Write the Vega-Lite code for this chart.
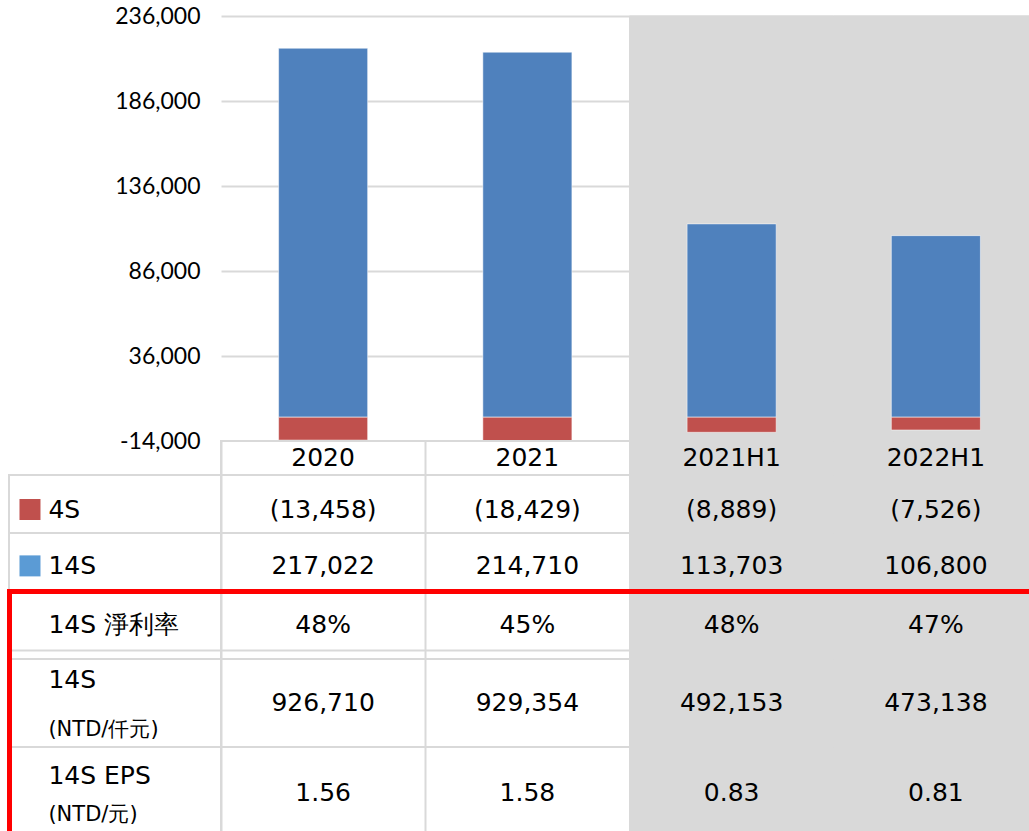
{
  "$schema": "https://vega.github.io/schema/vega-lite/v6.json",
  "padding": {"left": 8, "top": 5, "right": 0, "bottom": 0},
  "background": "white",
  "config": {"view": {"stroke": null}, "font": "DejaVu Sans", "axis": {"labelColor": "#000000"}},
  "datasets": {
    "bars": [
      {"period": "2020", "series": "14S", "value": 217022},
      {"period": "2020", "series": "4S", "value": -13458},
      {"period": "2021", "series": "14S", "value": 214710},
      {"period": "2021", "series": "4S", "value": -18429},
      {"period": "2021H1", "series": "14S", "value": 113703},
      {"period": "2021H1", "series": "4S", "value": -8889},
      {"period": "2022H1", "series": "14S", "value": 106800},
      {"period": "2022H1", "series": "4S", "value": -7526}
    ],
    "metrics": [
      {"metric": "margin", "period": "2020", "value": 0.48},
      {"metric": "margin", "period": "2021", "value": 0.45},
      {"metric": "margin", "period": "2021H1", "value": 0.48},
      {"metric": "margin", "period": "2022H1", "value": 0.47},
      {"metric": "profit", "period": "2020", "value": 926710},
      {"metric": "profit", "period": "2021", "value": 929354},
      {"metric": "profit", "period": "2021H1", "value": 492153},
      {"metric": "profit", "period": "2022H1", "value": 473138},
      {"metric": "eps", "period": "2020", "value": 1.56},
      {"metric": "eps", "period": "2021", "value": 1.58},
      {"metric": "eps", "period": "2021H1", "value": 0.83},
      {"metric": "eps", "period": "2022H1", "value": 0.81}
    ],
    "labels": [
      {"row": "4S", "main": "4S", "sub": ""},
      {"row": "14S", "main": "14S", "sub": ""},
      {"row": "margin", "main": "14S 淨利率", "sub": ""},
      {"row": "profit", "main": "14S", "sub": "(NTD/仟元)"},
      {"row": "eps", "main": "14S EPS", "sub": "(NTD/元)"}
    ],
    "blank": [{"t": ""}]
  },
  "columns": 2,
  "spacing": 0,
  "bounds": "flush",
  "align": "each",
  "concat": [
    {
      "width": 212, "height": 425,
      "data": {"name": "blank"},
      "mark": {"type": "text"},
      "encoding": {"text": {"field": "t"}}
    },
    {
      "width": 817, "height": 425,
      "data": {"name": "bars"},
      "encoding": {
        "x": {"field": "period", "type": "nominal", "sort": null, "scale": {"domain": ["2020", "2021", "2021H1", "2022H1"], "paddingInner": 0, "paddingOuter": 0}, "axis": null}
      },
      "layer": [
        {
          "transform": [{"filter": "datum.series == '14S' && (datum.period == '2021H1' || datum.period == '2022H1')"}],
          "mark": {"type": "rect", "color": "#D9D9D9", "stroke": "#D9D9D9", "strokeWidth": 1},
          "encoding": {
            "y": {"datum": 236000, "type": "quantitative",
                  "scale": {"domain": [-14000, 236000], "nice": false, "zero": false},
                  "axis": {"values": [-14000, 36000, 86000, 136000, 186000, 236000], "format": ",.0f", "labelExpr": "replace(format(datum.value, ',.0f'), '−', '-')", "title": null, "domain": false, "ticks": false, "grid": true, "gridColor": "#D9D9D9", "gridWidth": 2, "labelFont": "Lato", "labelFontSize": 23, "labelPadding": 21, "labelColor": "#000000"}},
            "y2": {"datum": -14000}
          }
        },
        {
          "mark": {"type": "bar", "width": {"band": 0.436}, "clip": true, "stroke": "#ffffff", "strokeWidth": 1, "strokeOpacity": 0.5},
          "encoding": {
            "y": {"field": "value", "type": "quantitative", "stack": "zero",
                  "scale": {"domain": [-14000, 236000], "nice": false, "zero": false},
                  "axis": {"values": [-14000, 36000, 86000, 136000, 186000, 236000], "format": ",.0f", "labelExpr": "replace(format(datum.value, ',.0f'), '−', '-')", "title": null, "domain": false, "ticks": false, "grid": true, "gridColor": "#D9D9D9", "gridWidth": 2, "labelFont": "Lato", "labelFontSize": 23, "labelPadding": 21, "labelColor": "#000000"}},
            "color": {"field": "series", "type": "nominal", "scale": {"domain": ["14S", "4S"], "range": ["#4F81BD", "#C0504D"]}, "legend": null}
          }
        },
        {
          "mark": {"type": "rule", "color": "#D9D9D9", "strokeWidth": 2},
          "encoding": {"y": {"datum": 0, "type": "quantitative",
                  "axis": {"values": [-14000, 36000, 86000, 136000, 186000, 236000], "format": ",.0f", "labelExpr": "replace(format(datum.value, ',.0f'), '−', '-')", "title": null, "domain": false, "ticks": false, "grid": true, "gridColor": "#D9D9D9", "gridWidth": 2, "labelFont": "Lato", "labelFontSize": 23, "labelPadding": 21, "labelColor": "#000000"}}}
        }
      ]
    },
    {
      "width": 212, "height": 34,
      "data": {"name": "blank"},
      "mark": {"type": "text"},
      "encoding": {"text": {"field": "t"}}
    },
    {
      "width": 817, "height": 34,
      "view": {"stroke": "#D9D9D9", "strokeWidth": 2, "fill": "white"},
      "data": {"name": "bars"},
      "transform": [{"filter": "datum.series == '14S'"}],
      "encoding": {
        "x": {"field": "period", "type": "nominal", "sort": null, "scale": {"domain": ["2020", "2021", "2021H1", "2022H1"], "paddingInner": 0, "paddingOuter": 0},
              "axis": {"grid": true, "tickBand": "extent", "gridColor": "#D9D9D9", "gridWidth": 2, "labels": false, "ticks": false, "domain": false, "title": null}},
        "y": {"field": "series", "type": "nominal", "scale": {"paddingInner": 0, "paddingOuter": 0}, "axis": null}
      },
      "layer": [
        {"transform": [{"filter": "datum.period == '2021H1' || datum.period == '2022H1'"}], "mark": {"type": "rect", "color": "#D9D9D9", "stroke": "#D9D9D9", "strokeWidth": 1}},
        {"mark": {"type": "text", "font": "DejaVu Sans", "fontSize": 25, "color": "#000000"}, "encoding": {"text": {"field": "period"}}}
      ]
    },
    {
      "width": 212, "height": 58,
      "view": {"stroke": "#D9D9D9", "strokeWidth": 2},
      "data": {"name": "labels"},
      "transform": [{"filter": "datum.row == '4S'"}],
      "layer": [
        {"mark": {"type": "point", "shape": "square", "filled": true, "size": 441, "opacity": 1},
         "encoding": {
           "x": {"field": "row", "type": "nominal", "bandPosition": 0.099, "scale": {"type": "band", "paddingInner": 0, "paddingOuter": 0}, "axis": null},
           "y": {"field": "row", "type": "nominal", "bandPosition": 0.595, "scale": {"type": "band", "paddingInner": 0, "paddingOuter": 0}, "axis": null},
           "fill": {"field": "row", "type": "nominal", "scale": {"domain": ["4S", "14S"], "range": ["#C0504D", "#5B9BD5"]}, "legend": null}}},
        {"mark": {"type": "text", "align": "left", "font": "DejaVu Sans", "fontSize": 25, "color": "#000000"},
         "encoding": {
           "x": {"field": "row", "type": "nominal", "bandPosition": 0.186, "scale": {"type": "band", "paddingInner": 0, "paddingOuter": 0}, "axis": null},
           "y": {"field": "row", "type": "nominal", "bandPosition": 0.6, "scale": {"type": "band", "paddingInner": 0, "paddingOuter": 0}, "axis": null},
           "text": {"field": "main"}}}
      ]
    },
    {
      "width": 817, "height": 58,
      "view": {"stroke": "#D9D9D9", "strokeWidth": 2},
      "data": {"name": "bars"},
      "transform": [{"filter": "datum.series == '4S'"}],
      "encoding": {
        "x": {"field": "period", "type": "nominal", "sort": null, "scale": {"domain": ["2020", "2021", "2021H1", "2022H1"], "paddingInner": 0, "paddingOuter": 0},
              "axis": {"grid": true, "tickBand": "extent", "gridColor": "#D9D9D9", "gridWidth": 2, "labels": false, "ticks": false, "domain": false, "title": null}}
      },
      "layer": [
        {"transform": [{"filter": "datum.period == '2021H1' || datum.period == '2022H1'"}], "mark": {"type": "rect", "color": "#D9D9D9", "stroke": "#D9D9D9", "strokeWidth": 1},
         "encoding": {"y": {"field": "series", "type": "nominal", "scale": {"type": "band", "paddingInner": 0, "paddingOuter": 0}, "axis": null}}},
        {"mark": {"type": "text", "font": "DejaVu Sans", "fontSize": 25, "color": "#000000"},
         "encoding": {
           "y": {"field": "series", "type": "nominal", "bandPosition": 0.6, "scale": {"type": "band", "paddingInner": 0, "paddingOuter": 0}, "axis": null},
           "text": {"field": "value", "type": "quantitative", "format": "(,d"}}}
      ]
    },
    {
      "width": 212, "height": 58,
      "view": {"stroke": "#D9D9D9", "strokeWidth": 2},
      "data": {"name": "labels"},
      "transform": [{"filter": "datum.row == '14S'"}],
      "layer": [
        {"mark": {"type": "point", "shape": "square", "filled": true, "size": 441, "opacity": 1},
         "encoding": {
           "x": {"field": "row", "type": "nominal", "bandPosition": 0.099, "scale": {"type": "band", "paddingInner": 0, "paddingOuter": 0}, "axis": null},
           "y": {"field": "row", "type": "nominal", "bandPosition": 0.567, "scale": {"type": "band", "paddingInner": 0, "paddingOuter": 0}, "axis": null},
           "fill": {"field": "row", "type": "nominal", "scale": {"domain": ["4S", "14S"], "range": ["#C0504D", "#5B9BD5"]}, "legend": null}}},
        {"mark": {"type": "text", "align": "left", "font": "DejaVu Sans", "fontSize": 25, "color": "#000000"},
         "encoding": {
           "x": {"field": "row", "type": "nominal", "bandPosition": 0.186, "scale": {"type": "band", "paddingInner": 0, "paddingOuter": 0}, "axis": null},
           "y": {"field": "row", "type": "nominal", "bandPosition": 0.575, "scale": {"type": "band", "paddingInner": 0, "paddingOuter": 0}, "axis": null},
           "text": {"field": "main"}}}
      ]
    },
    {
      "width": 817, "height": 58,
      "view": {"stroke": "#D9D9D9", "strokeWidth": 2},
      "data": {"name": "bars"},
      "transform": [{"filter": "datum.series == '14S'"}],
      "encoding": {
        "x": {"field": "period", "type": "nominal", "sort": null, "scale": {"domain": ["2020", "2021", "2021H1", "2022H1"], "paddingInner": 0, "paddingOuter": 0},
              "axis": {"grid": true, "tickBand": "extent", "gridColor": "#D9D9D9", "gridWidth": 2, "labels": false, "ticks": false, "domain": false, "title": null}}
      },
      "layer": [
        {"transform": [{"filter": "datum.period == '2021H1' || datum.period == '2022H1'"}], "mark": {"type": "rect", "color": "#D9D9D9", "stroke": "#D9D9D9", "strokeWidth": 1},
         "encoding": {"y": {"field": "series", "type": "nominal", "scale": {"type": "band", "paddingInner": 0, "paddingOuter": 0}, "axis": null}}},
        {"mark": {"type": "text", "font": "DejaVu Sans", "fontSize": 25, "color": "#000000"},
         "encoding": {
           "y": {"field": "series", "type": "nominal", "bandPosition": 0.575, "scale": {"type": "band", "paddingInner": 0, "paddingOuter": 0}, "axis": null},
           "text": {"field": "value", "type": "quantitative", "format": "(,d"}}}
      ]
    },
    {
      "width": 212, "height": 68,
      "view": {"stroke": "#D9D9D9", "strokeWidth": 2},
      "data": {"name": "labels"},
      "transform": [{"filter": "datum.row == 'margin'"}],
      "encoding": {
        "y": {"field": "row", "type": "nominal", "scale": {"type": "band", "paddingInner": 0, "paddingOuter": 0},
              "axis": {"orient": "left", "domain": true, "domainColor": "#FF0000", "domainWidth": 5, "domainCap": "square", "labels": false, "ticks": false, "title": null, "grid": true, "bandPosition": 0.868, "gridColor": "#D9D9D9", "gridWidth": 2, "zindex": 1}}
      },
      "layer": [
        {"mark": {"type": "text", "align": "left", "font": "DejaVu Sans", "fontSize": 25, "color": "#000000"},
         "encoding": {
           "x": {"field": "row", "type": "nominal", "bandPosition": 0.186, "scale": {"type": "band", "paddingInner": 0, "paddingOuter": 0},
                 "axis": {"orient": "top", "domain": true, "domainColor": "#FF0000", "domainWidth": 5, "domainCap": "square", "labels": false, "ticks": false, "grid": false, "title": null, "zindex": 1}},
           "text": {"field": "main"}}}
      ]
    },
    {
      "width": 817, "height": 68,
      "view": {"stroke": "#D9D9D9", "strokeWidth": 2},
      "data": {"name": "metrics"},
      "transform": [{"filter": "datum.metric == 'margin'"}],
      "encoding": {
        "x": {"field": "period", "type": "nominal", "sort": null, "scale": {"domain": ["2020", "2021", "2021H1", "2022H1"], "paddingInner": 0, "paddingOuter": 0},
              "axis": {"orient": "top", "grid": true, "tickBand": "extent", "gridColor": "#D9D9D9", "gridWidth": 2, "labels": false, "ticks": false, "domain": true, "domainColor": "#FF0000", "domainWidth": 5, "domainCap": "square", "title": null, "zindex": 1}},
        "y": {"field": "metric", "type": "nominal", "scale": {"paddingInner": 0, "paddingOuter": 0},
              "axis": {"orient": "left", "domain": false, "labels": false, "ticks": false, "title": null, "grid": true, "bandPosition": 0.868, "gridColor": "#D9D9D9", "gridWidth": 2}}
      },
      "layer": [
        {"transform": [{"filter": "datum.period == '2021H1' || datum.period == '2022H1'"}], "mark": {"type": "rect", "color": "#D9D9D9", "stroke": "#D9D9D9", "strokeWidth": 1}},
        {"mark": {"type": "text", "font": "DejaVu Sans", "fontSize": 25, "color": "#000000"}, "encoding": {"text": {"field": "value", "type": "quantitative", "format": ".0%"}}}
      ]
    },
    {
      "width": 212, "height": 88,
      "view": {"stroke": "#D9D9D9", "strokeWidth": 2},
      "data": {"name": "labels"},
      "transform": [{"filter": "datum.row == 'profit'"}],
      "encoding": {
        "x": {"field": "row", "type": "nominal", "bandPosition": 0.186, "scale": {"type": "band", "paddingInner": 0, "paddingOuter": 0}, "axis": null}
      },
      "layer": [
        {"mark": {"type": "text", "align": "left", "font": "DejaVu Sans", "fontSize": 25, "color": "#000000"},
         "encoding": {
           "y": {"field": "row", "type": "nominal", "bandPosition": 0.24, "scale": {"type": "band", "paddingInner": 0, "paddingOuter": 0},
                 "axis": {"orient": "left", "domain": true, "domainColor": "#FF0000", "domainWidth": 5, "domainCap": "square", "labels": false, "ticks": false, "grid": false, "title": null, "zindex": 1}},
           "text": {"field": "main"}}},
        {"mark": {"type": "text", "align": "left", "font": "DejaVu Sans", "fontSize": 21, "color": "#000000"},
         "encoding": {
           "y": {"field": "row", "type": "nominal", "bandPosition": 0.81, "scale": {"type": "band", "paddingInner": 0, "paddingOuter": 0}},
           "text": {"field": "sub"}}}
      ]
    },
    {
      "width": 817, "height": 88,
      "view": {"stroke": "#D9D9D9", "strokeWidth": 2},
      "data": {"name": "metrics"},
      "transform": [{"filter": "datum.metric == 'profit'"}],
      "encoding": {
        "x": {"field": "period", "type": "nominal", "sort": null, "scale": {"domain": ["2020", "2021", "2021H1", "2022H1"], "paddingInner": 0, "paddingOuter": 0},
              "axis": {"grid": true, "tickBand": "extent", "gridColor": "#D9D9D9", "gridWidth": 2, "labels": false, "ticks": false, "domain": false, "title": null}},
        "y": {"field": "metric", "type": "nominal", "scale": {"paddingInner": 0, "paddingOuter": 0}, "axis": null}
      },
      "layer": [
        {"transform": [{"filter": "datum.period == '2021H1' || datum.period == '2022H1'"}], "mark": {"type": "rect", "color": "#D9D9D9", "stroke": "#D9D9D9", "strokeWidth": 1}},
        {"mark": {"type": "text", "font": "DejaVu Sans", "fontSize": 25, "color": "#000000"}, "encoding": {"text": {"field": "value", "type": "quantitative", "format": ",d"}}}
      ]
    },
    {
      "width": 212, "height": 92,
      "view": {"stroke": "#D9D9D9", "strokeWidth": 2},
      "data": {"name": "labels"},
      "transform": [{"filter": "datum.row == 'eps'"}],
      "encoding": {
        "x": {"field": "row", "type": "nominal", "bandPosition": 0.186, "scale": {"type": "band", "paddingInner": 0, "paddingOuter": 0}, "axis": null}
      },
      "layer": [
        {"mark": {"type": "text", "align": "left", "font": "DejaVu Sans", "fontSize": 25, "color": "#000000"},
         "encoding": {
           "y": {"field": "row", "type": "nominal", "bandPosition": 0.31, "scale": {"type": "band", "paddingInner": 0, "paddingOuter": 0},
                 "axis": {"orient": "left", "domain": true, "domainColor": "#FF0000", "domainWidth": 5, "domainCap": "square", "labels": false, "ticks": false, "grid": false, "title": null, "zindex": 1}},
           "text": {"field": "main"}}},
        {"mark": {"type": "text", "align": "left", "font": "DejaVu Sans", "fontSize": 21, "color": "#000000"},
         "encoding": {
           "y": {"field": "row", "type": "nominal", "bandPosition": 0.74, "scale": {"type": "band", "paddingInner": 0, "paddingOuter": 0}},
           "text": {"field": "sub"}}}
      ]
    },
    {
      "width": 817, "height": 92,
      "view": {"stroke": "#D9D9D9", "strokeWidth": 2},
      "data": {"name": "metrics"},
      "transform": [{"filter": "datum.metric == 'eps'"}],
      "encoding": {
        "x": {"field": "period", "type": "nominal", "sort": null, "scale": {"domain": ["2020", "2021", "2021H1", "2022H1"], "paddingInner": 0, "paddingOuter": 0},
              "axis": {"grid": true, "tickBand": "extent", "gridColor": "#D9D9D9", "gridWidth": 2, "labels": false, "ticks": false, "domain": false, "title": null}},
        "y": {"field": "metric", "type": "nominal", "scale": {"paddingInner": 0, "paddingOuter": 0}, "axis": null}
      },
      "layer": [
        {"transform": [{"filter": "datum.period == '2021H1' || datum.period == '2022H1'"}], "mark": {"type": "rect", "color": "#D9D9D9", "stroke": "#D9D9D9", "strokeWidth": 1}},
        {"mark": {"type": "text", "font": "DejaVu Sans", "fontSize": 25, "color": "#000000"}, "encoding": {"text": {"field": "value", "type": "quantitative", "format": ".2f"}}}
      ]
    }
  ]
}
